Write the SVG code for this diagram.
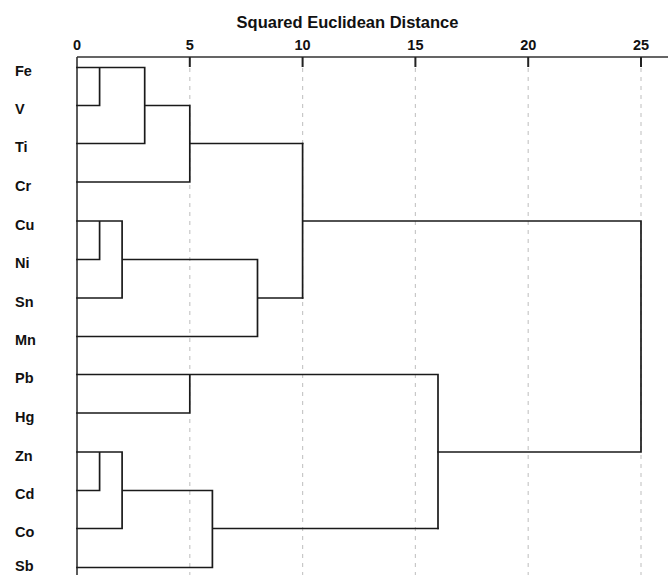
<svg xmlns="http://www.w3.org/2000/svg" width="668" height="575" viewBox="0 0 668 575">
<style>
.lbl{font-family:"Liberation Sans",Arial,sans-serif;font-weight:bold;font-size:14.5px;fill:#111}
.tick{font-family:"Liberation Sans",Arial,sans-serif;font-weight:bold;font-size:14.5px;fill:#111;text-anchor:middle}
.title{font-family:"Liberation Sans",Arial,sans-serif;font-weight:bold;font-size:16.5px;fill:#111;text-anchor:middle}
.grid{stroke:#c8c8c8;stroke-width:1.2;stroke-dasharray:4 5;fill:none}
.axis{stroke:#333;stroke-width:1.6;fill:none}
.tk{stroke:#222;stroke-width:2;fill:none}
.tree{stroke:#1a1a1a;stroke-width:1.7;fill:none;stroke-linecap:square}
</style>
<rect width="668" height="575" fill="#fff"/>
<g id="grid">
<path class="grid" d="M189.8,68V575M302.6,68V575M415.4,68V575M528.2,68V575M641,68V575"/>
</g>
<g id="axis">
<text class="title" x="347.5" y="27.5">Squared Euclidean Distance</text>
<text class="tick" x="77" y="50">0</text>
<text class="tick" x="189.8" y="50">5</text>
<text class="tick" x="302.6" y="50">10</text>
<text class="tick" x="415.4" y="50">15</text>
<text class="tick" x="528.2" y="50">20</text>
<text class="tick" x="641" y="50">25</text>
<path class="axis" d="M77,57H668M77,57V575"/>
<path class="tk" d="M189.8,57V67M302.6,57V67M415.4,57V67M528.2,57V67M641,57V67"/>
</g>
<g id="node-Fe"><text class="lbl" x="15" y="76">Fe</text></g>
<g id="node-V"><text class="lbl" x="15" y="114">V</text></g>
<g id="node-Ti"><text class="lbl" x="15" y="152">Ti</text></g>
<g id="node-Cr"><text class="lbl" x="15" y="190.5">Cr</text></g>
<g id="node-Cu"><text class="lbl" x="15" y="229.5">Cu</text></g>
<g id="node-Ni"><text class="lbl" x="15" y="268">Ni</text></g>
<g id="node-Sn"><text class="lbl" x="15" y="306.5">Sn</text></g>
<g id="node-Mn"><text class="lbl" x="15" y="345">Mn</text></g>
<g id="node-Pb"><text class="lbl" x="15" y="383">Pb</text></g>
<g id="node-Hg"><text class="lbl" x="15" y="421.5">Hg</text></g>
<g id="node-Zn"><text class="lbl" x="15" y="460.5">Zn</text></g>
<g id="node-Cd"><text class="lbl" x="15" y="499">Cd</text></g>
<g id="node-Co"><text class="lbl" x="15" y="537">Co</text></g>
<g id="node-Sb"><text class="lbl" x="15" y="571">Sb</text></g>
<g id="connectors">
<path class="tree" d="M77,67.5H144.7M77,105.5H99.6M99.6,67.5V105.5M144.7,67.5V143.5M77,143.5H144.7M144.7,105.5H189.8M77,182H189.8M189.8,105.5V182M189.8,143.5H302.6"/>
<path class="tree" d="M77,221H122.1M77,259.5H99.6M99.6,221V259.5M77,298H122.1M122.1,221V298M122.1,259.5H257.5M77,336.5H257.5M257.5,259.5V336.5M257.5,298H302.6"/>
<path class="tree" d="M302.6,143.5V298M302.6,221H641M641,221V452M438,452H641"/>
<path class="tree" d="M77,374.5H438M77,413H189.8M189.8,374.5V413M438,374.5V528.5"/>
<path class="tree" d="M77,452H122.1M77,490.5H99.6M99.6,452V490.5M77,528.5H122.1M122.1,452V528.5M122.1,490.5H212.4M77,567.5H212.4M212.4,490.5V567.5M212.4,528.5H438"/>
</g>
</svg>
